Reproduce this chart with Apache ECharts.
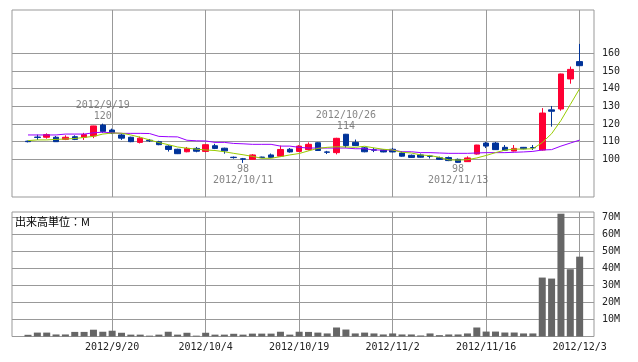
<!DOCTYPE html>
<html><head><meta charset="utf-8">
<script src="https://cdn.jsdelivr.net/npm/echarts@6/dist/echarts.min.js"></script>
<style>html,body{margin:0;padding:0;background:#fff}#c{width:638px;height:362px}</style>
</head><body><div id="c"></div>
<script>
const dates = ['2012/9/6','2012/9/7','2012/9/10','2012/9/11','2012/9/12','2012/9/13','2012/9/14','2012/9/18','2012/9/19','2012/9/20',
'2012/9/21','2012/9/24','2012/9/25','2012/9/26','2012/9/27','2012/9/28','2012/10/1','2012/10/2','2012/10/3','2012/10/4',
'2012/10/5','2012/10/9','2012/10/10','2012/10/11','2012/10/12','2012/10/15','2012/10/16','2012/10/17','2012/10/18','2012/10/19',
'2012/10/22','2012/10/23','2012/10/24','2012/10/25','2012/10/26','2012/10/29','2012/10/30','2012/10/31','2012/11/1','2012/11/2',
'2012/11/5','2012/11/6','2012/11/7','2012/11/8','2012/11/9','2012/11/12','2012/11/13','2012/11/14','2012/11/15','2012/11/16',
'2012/11/19','2012/11/20','2012/11/21','2012/11/22','2012/11/26','2012/11/27','2012/11/28','2012/11/29','2012/11/30','2012/12/3'];
const opens  = [110.3,112.6,112.5,112.5,111.3,112.8,112.5,113.2,119.4,116.6, 113.8,112.5,109.6,110.8,110.0,107.5,105.7,104.3,106.2,104.5,
                107.7,106.3,101.2,100.3,100.0,101.3,102.5,101.8,105.7,104.5, 105.5,109.4,104.2,103.8,114.2,109.6,106.5,105.4,105.3,105.7,
                103.6,102.3,102.5,101.9,100.9,101.0,100.0,98.7,103.0,109.2, 109.2,106.8,104.7,106.8,106.7,105.3,128.0,128.5,145.5,155.3];
const closes = [110.0,112.4,114.0,110.0,112.5,111.3,114.0,118.9,115.8,114.9, 112.0,110.0,112.0,110.5,108.3,105.6,103.2,106.2,104.6,108.3,
                106.2,104.8,101.0,100.1,102.5,101.0,101.1,105.6,104.2,107.5, 108.5,105.0,104.0,111.9,107.8,107.8,104.3,105.2,104.2,104.2,
                101.8,101.1,101.2,101.7,100.0,99.3,98.3,100.8,108.1,107.5, 105.5,105.2,106.2,106.0,106.5,126.2,127.2,148.3,150.9,153.0];
const lows   = [109.6,111.0,111.7,110.0,110.9,110.9,111.0,112.0,115.0,114.3, 111.0,109.7,109.0,109.8,108.0,104.4,103.0,104.0,104.0,104.0,
                105.8,103.2,100.4,98.0,100.0,100.7,100.8,101.5,103.8,104.2, 105.0,104.8,103.0,102.8,106.6,107.5,104.0,104.1,104.0,104.0,
                101.5,100.8,101.0,100.5,99.8,99.0,98.0,98.5,102.7,106.4, 105.3,104.9,104.5,105.7,105.3,105.0,118.5,127.5,142.8,153.0];
const highs  = [110.6,114.0,114.7,113.2,113.6,113.6,115.0,119.0,120.2,117.4, 114.5,112.8,112.9,111.5,110.5,108.0,106.0,107.0,107.0,108.5,
                108.8,106.6,101.6,100.8,103.0,101.5,103.3,107.8,106.4,108.0, 109.6,109.7,104.8,112.2,114.4,111.2,107.0,106.5,105.6,106.5,
                104.6,102.7,103.3,102.5,101.5,101.6,100.5,101.7,108.2,109.8, 109.8,108.1,108.1,107.0,108.1,129.0,130.2,148.5,152.5,165.3];
const ma5  = [110.6,111.0,111.0,111.3,111.5,111.8,112.4,113.0,114.3,114.9, 114.8,113.8,112.5,111.0,109.5,108.3,107.0,106.3,105.8,105.3,
              105.0,104.3,103.4,102.6,101.7,100.6,100.6,101.5,102.5,103.3, 104.8,106.2,106.8,107.1,107.0,106.8,107.4,106.5,105.7,105.3,
              104.0,103.6,102.5,102.1,101.2,99.7,99.6,99.8,100.8,102.2, 103.8,105.2,105.8,105.8,106.0,109.5,114.5,122.0,131.0,140.0];
const ma25 = [113.8,113.8,113.8,113.8,114.3,114.3,114.3,115.0,115.4,115.0, 114.7,114.7,114.7,114.6,113.0,112.8,112.7,110.8,110.5,110.4,
              109.6,109.6,109.0,108.8,108.5,108.5,108.5,107.5,107.5,106.8, 106.4,106.4,106.4,106.4,106.4,106.0,106.0,105.3,105.3,105.3,
              104.3,104.3,103.8,103.8,103.6,103.4,103.4,103.4,103.6,103.8, 103.8,103.8,104.0,104.2,104.5,105.3,105.5,107.5,109.2,110.9];
const volumes = [1.0,2.3,2.3,1.2,1.2,2.7,2.7,4.0,2.8,3.4, 2.2,1.1,1.1,0.5,1.1,2.8,1.1,2.2,0.5,2.2,
                 1.1,1.1,1.6,1.1,1.7,1.7,1.7,2.8,1.1,2.8, 2.7,2.3,1.8,5.3,4.1,1.8,2.3,1.8,1.2,1.8,
                 1.2,1.2,0.6,1.8,0.8,1.2,1.2,1.8,5.3,2.9, 2.9,2.35,2.35,1.8,1.8,34.7,34.1,72.3,39.6,47.0];
const priceTicks = [100,110,120,130,140,150,160];
const volumeTicks = [10,20,30,40,50,60,70];
const labelDates = ['2012/9/20','2012/10/4','2012/10/19','2012/11/2','2012/11/16','2012/12/3'];
const highNoteDates = ['2012/9/19','2012/10/26'];
const lowNoteDates = ['2012/10/11','2012/11/13'];

const MONO = 'DejaVu Sans Mono';
const GRID = '#999';
const pMin = 78.7, pMax = 184.5, vMax = 73.3;

const frameGrid = (top, bottom) => ({left: 12, right: 44, top: top, bottom: bottom, show: true, borderColor: GRID, borderWidth: 1, backgroundColor: 'rgba(0,0,0,0)'});
const dataGrid = (top, bottom) => ({left: 28, right: 58.35, top: top, bottom: bottom});

const catAxis = (gridIndex, showLabels) => ({
  type: 'category', gridIndex: gridIndex, data: dates, boundaryGap: false,
  axisLine: {show: false}, axisTick: {show: false},
  axisLabel: {show: showLabels, interval: (i, v) => labelDates.includes(v), fontFamily: MONO, fontSize: 10, color: '#222', margin: 6},
  splitLine: {show: true, interval: (i, v) => labelDates.includes(v), lineStyle: {color: GRID, width: 1}}
});
const hiddenX = (gridIndex) => ({type: 'value', gridIndex: gridIndex, min: 0, max: 1, show: false});
const labelY = (gridIndex, min, max, ticks, fmt) => ({
  type: 'value', gridIndex: gridIndex, position: 'right', min: min, max: max,
  axisLine: {show: false},
  axisTick: {show: false, customValues: ticks},
  axisLabel: {customValues: ticks, formatter: fmt, align: 'right', margin: 26, fontFamily: MONO, fontSize: 10, color: '#222'},
  splitLine: {show: true, lineStyle: {color: GRID, width: 1}}
});
const hiddenY = (gridIndex, min, max) => ({type: 'value', gridIndex: gridIndex, min: min, max: max, show: false, splitLine: {show: false}});

const noteStyle = {fontFamily: MONO, fontSize: 10, lineHeight: 11, color: '#666'};
const highNotes = highNoteDates.map(d => { const i = dates.indexOf(d); return {name: d, value: [i, highs[i]]}; });
const lowNotes = lowNoteDates.map(d => { const i = dates.indexOf(d); return {name: d, value: [i, lows[i]]}; });

const chart = echarts.init(document.getElementById('c'), null, {renderer: 'canvas'});
chart.setOption({
  animation: false,
  backgroundColor: '#fff',
  title: {text: '出来高単位：M', left: 15, top: 216, textStyle: {fontFamily: 'Noto Sans CJK JP', fontSize: 11, fontWeight: 'normal', color: '#000'}, padding: 0},
  grid: [frameGrid(10, 165), dataGrid(10, 165), frameGrid(212, 25.5), dataGrid(212, 25.5)],
  xAxis: [hiddenX(0), catAxis(1, false), hiddenX(2), catAxis(3, true)],
  yAxis: [
    labelY(0, pMin, pMax, priceTicks, v => String(v)),
    hiddenY(1, pMin, pMax),
    labelY(2, 0, vMax, volumeTicks, v => v + 'M'),
    hiddenY(3, 0, vMax)
  ],
  series: [
    {type: 'candlestick', xAxisIndex: 1, yAxisIndex: 1, clip: false, barWidth: 6,
     data: dates.map((d, i) => [opens[i], closes[i], lows[i], highs[i]]),
     itemStyle: {color: '#ff0033', color0: '#003399', borderColor: '#ff0033', borderColor0: '#003399', borderWidth: 1}},
    {type: 'line', xAxisIndex: 1, yAxisIndex: 1, data: ma25, symbol: 'none', clip: false, lineStyle: {color: '#9900ff', width: 1}},
    {type: 'line', xAxisIndex: 1, yAxisIndex: 1, data: ma5, symbol: 'none', clip: false, lineStyle: {color: '#99cc00', width: 1}},
    {type: 'scatter', xAxisIndex: 1, yAxisIndex: 1, data: highNotes, symbolSize: 1, itemStyle: {color: 'rgba(0,0,0,0)'},
     label: {show: true, position: 'top', distance: 1, formatter: p => '{d|' + p.name + '}\n{v|' + Math.round(p.value[1]) + '}', rich: {d: noteStyle, v: noteStyle}}},
    {type: 'scatter', xAxisIndex: 1, yAxisIndex: 1, data: lowNotes, symbolSize: 1, itemStyle: {color: 'rgba(0,0,0,0)'},
     label: {show: true, position: 'bottom', distance: 1, formatter: p => '{v|' + Math.round(p.value[1]) + '}\n{d|' + p.name + '}', rich: {d: noteStyle, v: noteStyle}}},
    {type: 'bar', xAxisIndex: 3, yAxisIndex: 3, data: volumes, barWidth: 7, clip: false, itemStyle: {color: '#666'}}
  ]
});
</script></body></html>
